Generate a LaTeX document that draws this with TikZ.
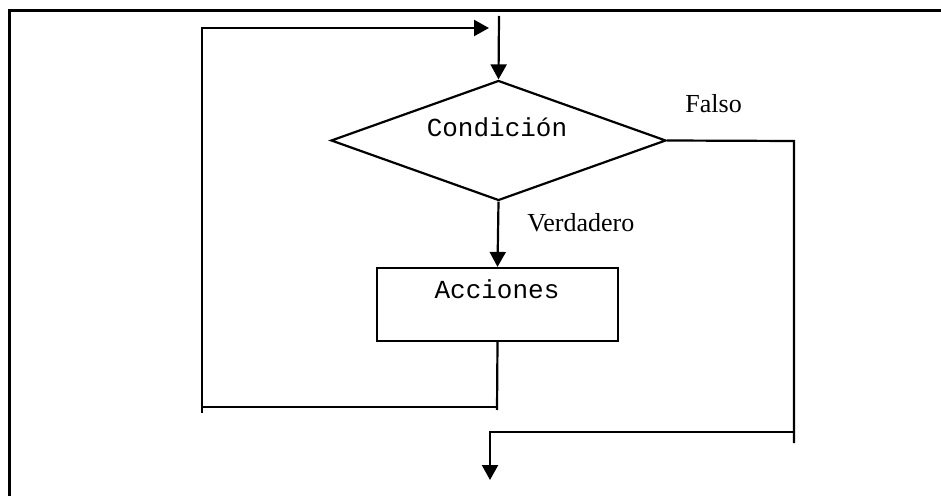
\documentclass[tikz,border=0pt]{standalone}
\usepackage{fontspec}
\setmainfont{Liberation Serif}
\setmonofont{Liberation Mono}
\usetikzlibrary{shapes.geometric,arrows.meta}
\begin{document}
\begin{tikzpicture}[x=0.5pt,y=-0.5pt,
  arr/.style={line width=1.1pt, black, -{Triangle[length=7.5pt,width=8pt]}},
  ln/.style={line width=1.1pt, black},
  cond/.style={diamond, draw, line width=1.1pt, minimum width=167.5pt, minimum height=60pt, inner sep=0pt},
  actbox/.style={rectangle, draw, line width=1.1pt, minimum width=120.5pt, minimum height=36.5pt, inner sep=0pt},
  mono/.style={font=\ttfamily\fontsize{13}{15}\selectfont, inner sep=0pt},
  serif/.style={font=\fontsize{13}{15}\selectfont, inner sep=0pt}]
\useasboundingbox (0,0) rectangle (941,496);
% frame (top and left only)
\coordinate (fTR) at (941,10.5);
\coordinate (fTL) at (9.5,10.5);
\coordinate (fBL) at (9.5,496);
\draw[ln] (fTR) -- (fTL) -- (fBL);
% nodes
\node[cond] (c) at (498.5,140.5) {};
\node[mono, anchor=base] (ct) at (497,137) {Condición};
\node[actbox] (a) at (497.5,304.5) {};
\node[mono, anchor=base] (at) at (497,299) {Acciones};
\node[serif, anchor=base west] (f) at (685,113) {Falso};
\node[serif, anchor=base west] (v) at (527,232) {Verdadero};
% coordinates
\coordinate (in) at (499,16);
\coordinate (fr) at (794,141);
\coordinate (fb) at (794,443);
\coordinate (fj) at (794,432);
\coordinate (oj) at (490,432);
\coordinate (out) at (490,480);
\coordinate (lb) at (497,410);
\coordinate (lj) at (497,407);
\coordinate (lbl) at (202,407);
\coordinate (lbot) at (202,413);
\coordinate (ltop) at (202,28);
\coordinate (ltip) at (489,28);
% connectors
\draw[arr] (in) -- (c.north);
\draw[arr] (c.south) -- (a.north);
\draw[ln] (c.east) -- (fr) -- (fb);
\draw[arr] (fj) -- (oj) -- (out);
\draw[ln] (a.south) -- (lb);
\draw[ln] (lj) -- (lbl);
\draw[arr] (lbot) -- (ltop) -- (ltip);
\end{tikzpicture}
\end{document}
